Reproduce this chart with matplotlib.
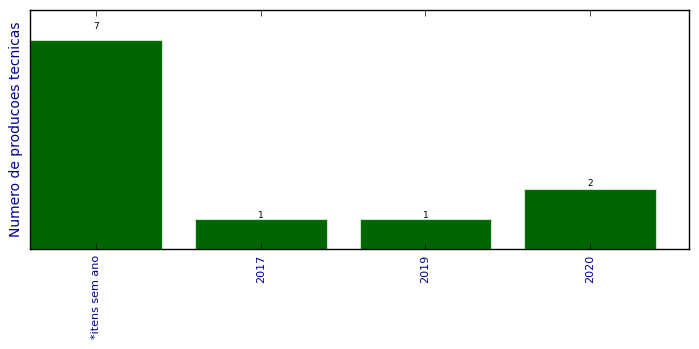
import numpy as np
import matplotlib
matplotlib.use("Agg")
import matplotlib.pyplot as plt

# data
categories = ["*itens sem ano", "2017", "2019", "2020"]
counts = [7, 1, 1, 2]

plt.style.use("classic")
fig = plt.figure(figsize=(6.99, 3.49), dpi=100)
ax = fig.add_axes([30 / 699, 1 - 249 / 349, 659 / 699, 239 / 349])

x = np.arange(len(categories))
bars = ax.bar(x, counts, width=0.8, align="center", color="darkgreen",
              edgecolor="#c8e6c8", linewidth=0.8)

for b, v in zip(bars, counts):
    ax.text(b.get_x() + b.get_width() / 2, v * 1.05, str(v),
            ha="center", va="baseline", fontsize=6.5)

ax.set_xlim(-0.4, 3.6)
ax.set_ylim(0, 8)
ax.set_xticks(x)
ax.set_xticklabels(categories, rotation=90, fontsize=8, color="darkblue")
ax.set_yticks([])
ax.set_ylabel("Numero de producoes tecnicas", fontsize=10, color="darkblue")

fig.savefig("out.png", dpi=100)
